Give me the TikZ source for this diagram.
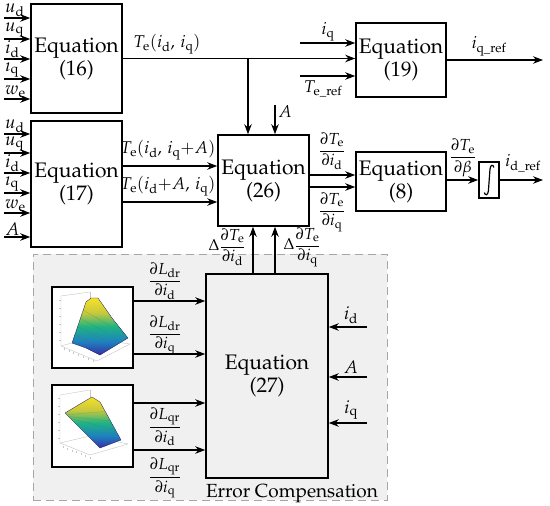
\documentclass[tikz,border=0pt]{standalone}
\usepackage[T1]{fontenc}
\usepackage{amsmath}
\usepackage{mathpazo}
\usetikzlibrary{arrows.meta,calc}
\definecolor{regfill}{RGB}{240,240,240}
\definecolor{surfY}{RGB}{245,225,40}
\definecolor{surfY2}{RGB}{200,200,60}
\definecolor{surfG}{RGB}{30,180,130}
\definecolor{surfT}{RGB}{30,130,190}
\definecolor{surfB}{RGB}{55,45,170}
\pgfdeclareverticalshading{parula}{100bp}{color(0bp)=(surfB); color(25bp)=(surfB); color(37bp)=(surfT); color(50bp)=(surfG); color(62bp)=(surfY2); color(75bp)=(surfY); color(100bp)=(surfY)}
\tikzset{
  eqbox/.style={draw, line width=1.6pt, inner sep=0pt, align=center, fill=white,
    font=\fontsize{21}{23}\selectfont},
  arr/.style={line width=1.1pt, -{Stealth[length=10pt,width=7.5pt]}},
  lbl/.style={inner sep=1pt, font=\fontsize{17}{19}\selectfont},
  inl/.style={inner sep=0pt, font=\fontsize{18}{20}\selectfont},
  frl/.style={inner sep=0pt, font=\fontsize{16}{18}\selectfont},
  region/.style={draw=gray!70, fill=regfill, line width=1pt, dash pattern=on 8pt off 5pt},
  imgbox/.style={draw, line width=1.6pt, fill=white, inner sep=0pt},
  axl/.style={gray!45, line width=0.4pt},
  surf/.style={shading=parula, draw=surfB!50!black, line width=0.3pt},
  mesh/.style={black!60, line width=0.2pt, opacity=0.5},
}
\begin{document}
\begin{tikzpicture}[x=1pt,y=-1pt]
\useasboundingbox (0,0) rectangle (550,506);

% error compensation region
\node[region, minimum width=354pt, minimum height=246pt] (ec) at (210,377) {};
\node[inner sep=0pt, font=\fontsize{19}{21}\selectfont, anchor=base] (ectxt) at (292,497) {Error Compensation};

% boxes
\node[eqbox, minimum width=91pt, minimum height=109pt] (e16) at (76.5,58.5) {Equation\\(16)};
\node[eqbox, minimum width=91pt, minimum height=126pt] (e17) at (76.5,184) {Equation\\(17)};
\node[eqbox, minimum width=91pt, minimum height=91pt] (e26) at (263.5,180.5) {Equation\\(26)};
\node[eqbox, minimum width=90pt, minimum height=74pt] (e19) at (401,60) {Equation\\(19)};
\node[eqbox, minimum width=90pt, minimum height=59pt] (e8) at (401,181.5) {Equation\\(8)};
\node[draw, line width=1.6pt, inner sep=0pt, fill=white, minimum width=20pt, minimum height=36pt] (integ) at (489,180) {};
\draw[line width=1.2pt] (493.8,167.5) .. controls (493.6,164.5) and (490.4,164.2) .. (490,169)
  -- (488.4,191) .. controls (488,195.8) and (484.6,195.5) .. (484.4,192.5);
\node[eqbox, fill=none, minimum width=122pt, minimum height=204pt] (e27) at (267,376) {Equation\\(27)};

% inputs of Equation (16)
\foreach \y/\t [count=\i] in {18/{u_{\mathrm d}},39/{u_{\mathrm q}},59/{i_{\mathrm d}},79/{i_{\mathrm q}},99/{w_{\mathrm e}}}{
  \coordinate (a\i) at (4,\y);
  \draw[arr] (a\i) -- (a\i -| e16.west);
  \node[inl, anchor=south west] (la\i) at ($(a\i)+(1,-1)$) {$\t$};
}
% inputs of Equation (17)
\foreach \y/\t [count=\i] in {134/{u_{\mathrm d}},153/{u_{\mathrm q}},173/{i_{\mathrm d}},193/{i_{\mathrm q}},213/{w_{\mathrm e}},237/{A}}{
  \coordinate (b\i) at (4,\y);
  \draw[arr] (b\i) -- (b\i -| e17.west);
  \node[inl, anchor=south west] (lb\i) at ($(b\i)+(1,-1)$) {$\t$};
}

% Te(id,iq) line
\draw[arr] (e16.east) -- (e16.east -| e19.west);
\node[lbl] (lte) at (167,44) {$T_{\mathrm e}(i_{\mathrm d},\, i_{\mathrm q})$};
\coordinate (j1) at (248,58.5);
\draw[arr] (j1) -- (j1 |- e26.north);
\coordinate (aA) at (275,105);
\draw[arr] (aA) -- (aA |- e26.north);
\node[lbl, anchor=west] (lA) at (277,112) {$A$};

% inputs of Equation (19)
\coordinate (q1) at (300,43);
\coordinate (q2) at (300,76);
\draw[arr] (q1) -- (q1 -| e19.west);
\draw[arr] (q2) -- (q2 -| e19.west);
\node[lbl] (lq1) at (328,32) {$i_{\mathrm q}$};
\node[lbl] (lq2) at (323,89) {$T_{\mathrm{e\_ref}}$};
\coordinate (qo) at (543,60);
\draw[arr] (e19.east |- qo) -- (qo);
\node[lbl] (lqo) at (489,46) {$i_{\mathrm{q\_ref}}$};

% outputs of Equation (17)
\coordinate (h1) at (0,166);
\coordinate (h2) at (0,202);
\draw[arr] (e17.east |- h1) -- (e26.west |- h1);
\draw[arr] (e17.east |- h2) -- (e26.west |- h2);
\node[lbl] (lh1) at (168,150) {$T_{\mathrm e}(i_{\mathrm d},\, i_{\mathrm q}{+}A)$};
\node[lbl] (lh2) at (168,186) {$T_{\mathrm e}(i_{\mathrm d}{+}A,\, i_{\mathrm q})$};

% outputs of Equation (26)
\coordinate (k1) at (0,175);
\coordinate (k2) at (0,187);
\draw[arr] (e26.east |- k1) -- (e8.west |- k1);
\draw[arr] (e26.east |- k2) -- (e8.west |- k2);
\node[frl] (lk1) at (332,151) {$\dfrac{\partial T_{\mathrm e}}{\partial i_{\mathrm d}}$};
\node[frl] (lk2) at (332,212) {$\dfrac{\partial T_{\mathrm e}}{\partial i_{\mathrm q}}$};

% Equation (8) to integrator
\draw[arr] (e8.east |- integ.west) -- (integ.west);
\node[frl] (lbeta) at (463,158) {$\dfrac{\partial T_{\mathrm e}}{\partial \beta}$};
\coordinate (io) at (543,180);
\draw[arr] (integ.east) -- (io);
\node[lbl] (lio) at (523,163) {$i_{\mathrm{d\_ref}}$};

% Equation (27) to Equation (26)
\coordinate (u1) at (253,0);
\coordinate (u2) at (275,0);
\draw[arr] (u1 |- e27.north) -- (u1 |- e26.south);
\draw[arr] (u2 |- e27.north) -- (u2 |- e26.south);
\node[frl] (lu1) at (227,247) {$\Delta\dfrac{\partial T_{\mathrm e}}{\partial i_{\mathrm d}}$};
\node[frl] (lu2) at (302,247) {$\Delta\dfrac{\partial T_{\mathrm e}}{\partial i_{\mathrm q}}$};

% surface plot thumbnails
\node[imgbox, minimum width=81pt, minimum height=81pt] (img1) at (92.5,327.5) {};
\node[imgbox, minimum width=81pt, minimum height=82pt] (img2) at (92.5,426) {};
% plot 1
\draw[axl] (61,296) -- (61,346) -- (97,361) -- (130,344);
\draw[axl] (61,296) -- (90,292);
\draw[axl] (61,346) -- (90,338) -- (130,344);
\draw[axl] (90,292) -- (90,338);
\foreach \t in {300,308,316,324,332,340}{\draw[axl] (59,\t) -- (61,\t);}
\foreach \t in {0,1,2,3,4,5,6}{\draw[axl] (64+4.8*\t,348+2*\t) -- (64+4.8*\t,350+2*\t);}
\path[surf] (72,343) -- (86,302) -- (91,298) -- (98,298) -- (112,318) -- (128,338) -- (100,355) -- (86,348) -- cycle;
\foreach \t in {0.2,0.4,0.6,0.8}{
  \draw[mesh] ($(86,302)!\t!(72,343)$) -- ($(112,318)!\t!(100,355)$);
}
% plot 2
\draw[axl] (60,395) -- (60,443) -- (90,455) -- (128,444);
\draw[axl] (60,395) -- (90,390);
\draw[axl] (60,443) -- (90,436) -- (128,444);
\draw[axl] (90,390) -- (90,436);
\foreach \t in {398,406,414,422,430,438}{\draw[axl] (58,\t) -- (60,\t);}
\foreach \t in {0,1,2,3,4,5,6}{\draw[axl] (63+4.5*\t,446+1.8*\t) -- (63+4.5*\t,448+1.8*\t);}
\path[surf] (65,413) -- (80,404) -- (92,397) -- (100,402) -- (110,420) -- (121,440) -- (100,448) -- (84,432) -- (72,420) -- cycle;
\foreach \t in {0.25,0.5,0.75}{
  \draw[mesh] ($(65,413)!\t!(72,420)$) -- ($(100,402)!\t!(121,440)$);
}

% outputs of plots to Equation (27)
\coordinate (g1) at (0,301);
\coordinate (g2) at (0,354);
\coordinate (g3) at (0,403);
\coordinate (g4) at (0,450);
\draw[arr] (img1.east |- g1) -- (e27.west |- g1);
\draw[arr] (img1.east |- g2) -- (e27.west |- g2);
\draw[arr] (img2.east |- g3) -- (e27.west |- g3);
\draw[arr] (img2.east |- g4) -- (e27.west |- g4);
\node[frl] (lg1) at (165,281) {$\dfrac{\partial L_{\mathrm{dr}}}{\partial i_{\mathrm d}}$};
\node[frl] (lg2) at (165,335) {$\dfrac{\partial L_{\mathrm{dr}}}{\partial i_{\mathrm q}}$};
\node[frl] (lg3) at (165,427) {$\dfrac{\partial L_{\mathrm{qr}}}{\partial i_{\mathrm d}}$};
\node[frl] (lg4) at (165,478) {$\dfrac{\partial L_{\mathrm{qr}}}{\partial i_{\mathrm q}}$};

% right inputs of Equation (27)
\foreach \y/\t [count=\i] in {327/{i_{\mathrm d}},377/{A},423/{i_{\mathrm q}}}{
  \coordinate (r\i) at (367,\y);
  \draw[arr] (r\i) -- (r\i -| e27.east);
  \node[inl, anchor=south] (lr\i) at (351,\y-3) {$\t$};
}
\end{tikzpicture}
\end{document}
